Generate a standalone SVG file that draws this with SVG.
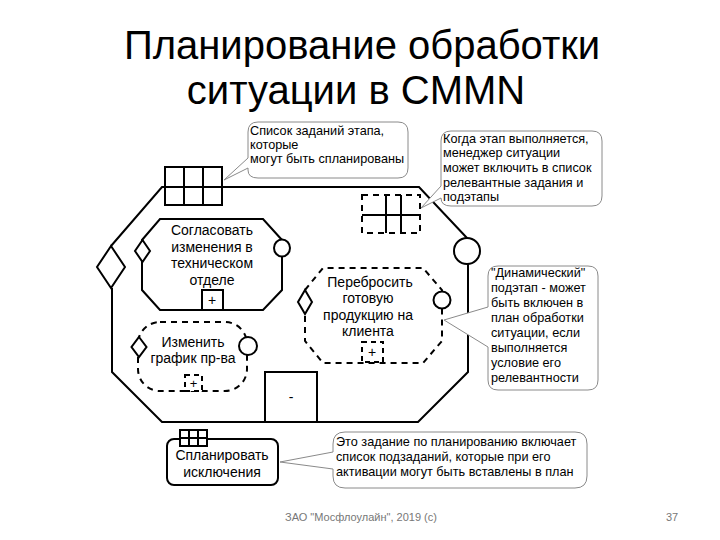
<svg xmlns="http://www.w3.org/2000/svg" width="720" height="540" viewBox="0 0 720 540">
<style>
.t{font-family:"Liberation Sans",Arial,sans-serif;fill:#000}
.title{font-size:40px;text-anchor:middle}
.task{font-size:14px;text-anchor:middle}
.note{font-size:12.7px}
.foot{font-family:"Liberation Sans",Arial,sans-serif;font-size:11px;fill:#777}
.s{fill:none;stroke:#000;stroke-width:2}
.sw{fill:#fff;stroke:#000;stroke-width:2}
.d{fill:none;stroke:#000;stroke-width:2;stroke-dasharray:6,5}
.dw{fill:#fff;stroke:#000;stroke-width:2;stroke-dasharray:5,4}
.c{fill:#fff;stroke:#8a8a8a;stroke-width:1}
</style>
<rect width="720" height="540" fill="#fff"/>
<g id="title">
<text class="t title" x="362" y="59">Планирование обработки</text>
<text class="t title" x="356" y="104">ситуации в CMMN</text>
</g>
<g id="stage">
<path class="s" d="M111,246 L162,187 H419 L467,238 M468,264 V372 L418,422 H162 L112,372 V288"/>
<ellipse class="sw" cx="467" cy="251" rx="13" ry="13"/>
<polygon class="sw" points="111,246 125,267 111,288 97,267"/>
<rect class="sw" x="265" y="372" width="52" height="50"/>
<text class="t task" x="291" y="402">-</text>
<g id="planning-table">
<rect class="s" x="165" y="167" width="57" height="38"/>
<path class="s" d="M184,167 V205 M203,167 V205 M165,187 H222"/>
</g>
<g id="discretionary-table">
<rect class="d" x="362" y="195" width="58" height="38"/>
<path class="s" d="M386,195 V233 M401,195 V233 M362,215 H420"/>
</g>
</g>
<g id="task1">
<path class="sw" d="M142,240 L160,219 H263 L282,240 V290 L263,310 H160 L142,290 Z"/>
<ellipse class="sw" cx="282" cy="248" rx="8" ry="8.5"/>
<polygon class="sw" points="142.5,240 150,251 142.5,262 135,251"/>
<rect class="sw" x="202" y="290" width="21" height="20"/>
<text class="t task" x="212" y="305">+</text>
<text class="t task" x="212" y="235">Согласовать</text>
<text class="t task" x="212" y="252">изменения в</text>
<text class="t task" x="212" y="268">техническом</text>
<text class="t task" x="212" y="285">отделе</text>
</g>
<g id="task2">
<path class="d" d="M305,290 L323,268 H423 L442,290 V341 L423,363 H323 L305,341 Z"/>
<ellipse class="sw" cx="442" cy="300" rx="8.5" ry="8.5"/>
<polygon class="sw" points="305,290 312,302 305,314 298,302"/>
<rect class="dw" x="362" y="342" width="21" height="20"/>
<text class="t task" x="372" y="357">+</text>
<text class="t task" x="370" y="287">Перебросить</text>
<text class="t task" x="368" y="303">готовую</text>
<text class="t task" x="368" y="320">продукцию на</text>
<text class="t task" x="368" y="336">клиента</text>
</g>
<g id="task3">
<rect class="d" x="138" y="322" width="109" height="69" rx="22"/>
<ellipse class="sw" cx="248" cy="346" rx="9" ry="9"/>
<polygon class="sw" points="139,337 146.5,347 139,357 131.5,347"/>
<rect class="dw" x="185" y="375" width="17" height="16"/>
<text class="t task" x="193.5" y="388" style="font-size:13px">+</text>
<text class="t task" x="193" y="347">Изменить</text>
<text class="t task" x="193" y="363">график пр-ва</text>
</g>
<g id="task4">
<rect class="sw" x="167" y="439" width="111" height="46" rx="7"/>
<rect class="sw" x="180" y="430" width="27" height="16"/>
<path class="s" d="M189,430 V446 M198,430 V446 M180,438 H207"/>
<text class="t task" x="222" y="460">Спланировать</text>
<text class="t task" x="222" y="477">исключения</text>
</g>
<g id="connectors">
<path class="c" d="M258,122 H398 Q408,122 408,132 V168 Q408,178 398,178 H258 Q248,178 248,170 V168 L224,180 L248,158 V132 Q248,122 258,122 Z"/>
<path class="c" d="M451,131 H592 Q602,131 602,141 V196 Q602,206 592,206 H451 Q441,206 441,198 L421,208 L441,186 V141 Q441,131 451,131 Z"/>
<path class="c" d="M498,266 H588 Q598,266 598,276 V380 Q598,390 588,390 H498 Q488,390 488,380 V347 L444,320 L488,307 V276 Q488,266 498,266 Z"/>
<path class="c" d="M345,432 H575 Q587,432 587,444 V476 Q587,488 575,488 H345 Q333,488 333,476 V469 L280,462 L333,452 V444 Q333,432 345,432 Z"/>
</g>
<g id="notes">
<text class="t note" x="250" y="135">Список заданий этапа,</text>
<text class="t note" x="250" y="149">которые</text>
<text class="t note" x="250" y="163">могут быть спланированы</text>
<text class="t note" x="443" y="143">Когда этап выполняется,</text>
<text class="t note" x="443" y="157">менеджер ситуации</text>
<text class="t note" x="443" y="172">может включить в список</text>
<text class="t note" x="443" y="187">релевантные задания и</text>
<text class="t note" x="443" y="201">подэтапы</text>
<text class="t note" x="491" y="277">"Динамический"</text>
<text class="t note" x="491" y="292">подэтап - может</text>
<text class="t note" x="491" y="307">быть включен в</text>
<text class="t note" x="491" y="322">план обработки</text>
<text class="t note" x="491" y="337">ситуации, если</text>
<text class="t note" x="491" y="352">выполняется</text>
<text class="t note" x="491" y="367">условие его</text>
<text class="t note" x="491" y="382">релевантности</text>
<text class="t note" x="336" y="446">Это задание по планированию включает</text>
<text class="t note" x="336" y="461">список подзаданий, которые при его</text>
<text class="t note" x="336" y="476">активации могут быть вставлены в план</text>
</g>
<g id="footer">
<text class="foot" x="285" y="521">ЗАО "Мосфлоулайн", 2019 (с)</text>
<text class="foot" x="666" y="521">37</text>
</g>
</svg>
